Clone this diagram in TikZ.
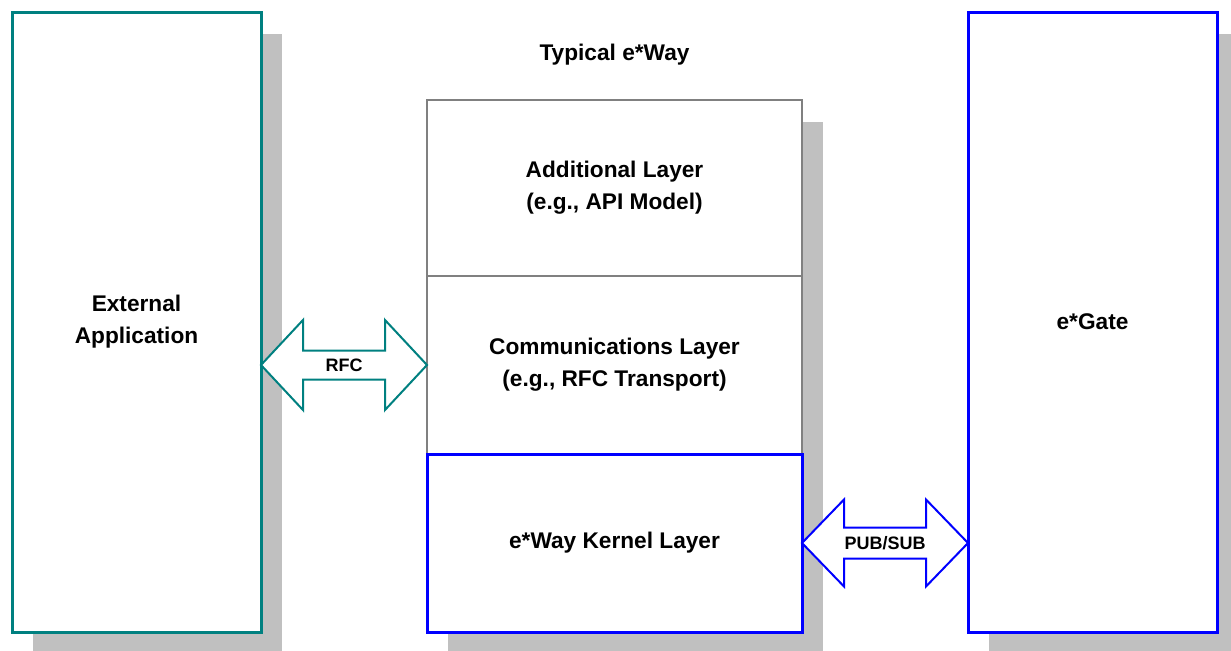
\documentclass[tikz,border=0pt]{standalone}
\usepackage{fontspec}
\setmainfont{Liberation Sans}
\usepackage{tikz}
\usetikzlibrary{positioning, calc, shadows}
\definecolor{appteal}{RGB}{0,128,128}
\definecolor{layergray}{RGB}{128,128,128}
\definecolor{kernelblue}{RGB}{0,0,255}
\definecolor{shadowgray}{RGB}{192,192,192}

\begin{document}
\begin{tikzpicture}[
    x=0.75pt, y=-0.75pt,
    box/.style={draw, fill=white, outer sep=0pt, align=center,
        font=\bfseries\fontsize{17}{24}\selectfont,
        drop shadow={shadow xshift=15.75pt, shadow yshift=-16.5pt, fill=shadowgray, opacity=1}},
    sidebox/.style={box, minimum width=186.75pt, minimum height=465pt, line width=2.25pt},
    layerbox/.style={box, minimum width=281.25pt, minimum height=133.5pt, draw=layergray, line width=2pt},
    arrowlabel/.style={font=\bfseries\fontsize{13.5}{16}\selectfont, inner sep=0pt},
    blockarrow/.style={fill=white, line width=1.5pt, line join=miter}
]
    \clip (0,0) rectangle (1231,650);

    % Outer boxes
    \node[sidebox, draw=appteal] (ext) at (136.5,322) {External\\Application};
    \node[sidebox, draw=kernelblue] (gate) at (1092.5,322) {e*Gate};

    % e*Way layers
    \node[font=\bfseries\fontsize{17}{20}\selectfont] (title) at (614.5,55) {Typical e*Way};
    \node[layerbox, minimum height=132pt] (addl) at (614.5,188) {Additional Layer\\(e.g., API Model)};
    \node[layerbox, below=0pt of addl] (comm) {Communications Layer\\(e.g., RFC Transport)};
    \node[layerbox, below=0pt of comm, draw=kernelblue, line width=2.25pt] (kernel) {e*Way Kernel Layer};

    % RFC arrow
    \coordinate (rfcL) at (ext.east |- comm.west);
    \coordinate (rfcR) at (comm.west);
    \draw[blockarrow, draw=appteal] (rfcL) -- ++(42,-45) -- ++(0,30.5) -- ($(rfcR)+(-42,-14.5)$) -- ++(0,-30.5)
        -- (rfcR) -- ++(-42,45) -- ++(0,-30.5) -- ($(rfcL)+(42,14.5)$) -- ++(0,30.5) -- cycle;
    \node[arrowlabel] (rfc) at ($(rfcL)!0.5!(rfcR)$) {RFC};

    % PUB/SUB arrow
    \coordinate (psL) at (kernel.east);
    \coordinate (psR) at (gate.west |- kernel.east);
    \draw[blockarrow, draw=kernelblue] (psL) -- ++(42,-43.5) -- ++(0,28) -- ($(psR)+(-42,-15.5)$) -- ++(0,-28)
        -- (psR) -- ++(-42,43.5) -- ++(0,-28) -- ($(psL)+(42,15.5)$) -- ++(0,28) -- cycle;
    \node[arrowlabel] (pubsub) at ($(psL)!0.5!(psR)$) {PUB/SUB};
\end{tikzpicture}
\end{document}
